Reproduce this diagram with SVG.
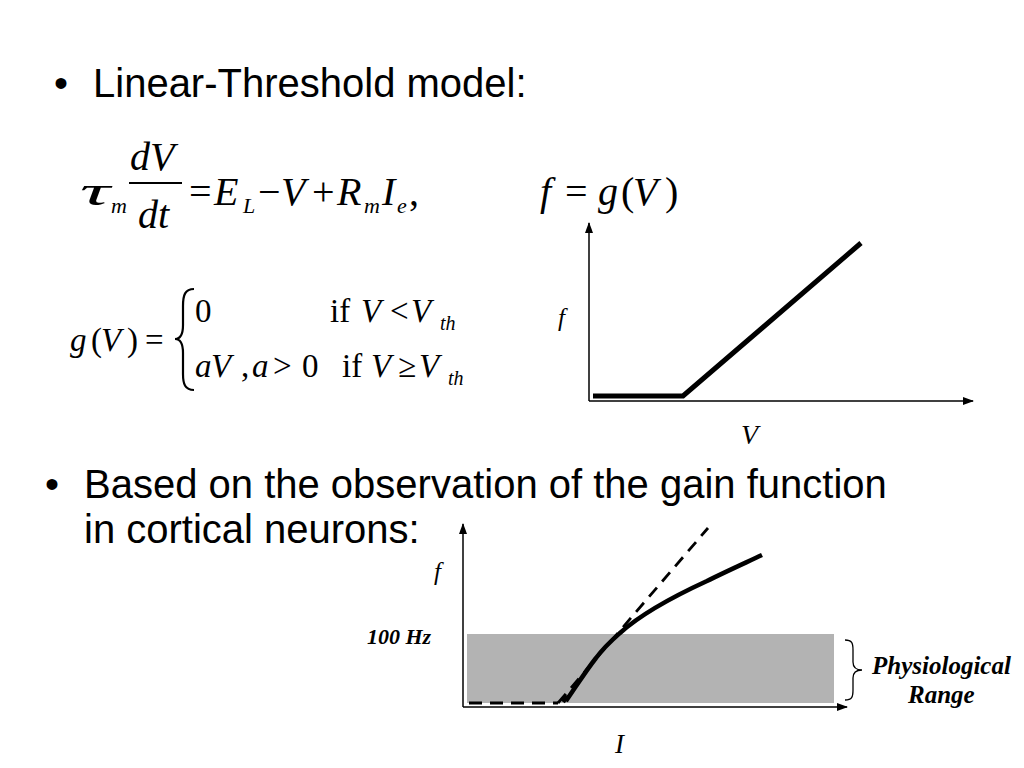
<svg xmlns="http://www.w3.org/2000/svg" width="1024" height="768" viewBox="0 0 1024 768">
<defs>
<style>
.bul{font-family:"Liberation Sans",Arial,sans-serif;font-size:40px;fill:#000}
.m{font-family:"Liberation Serif","Times New Roman",serif;font-style:italic;fill:#000}
.r{font-family:"Liberation Serif","Times New Roman",serif;fill:#000}
.bi{font-family:"Liberation Serif","Times New Roman",serif;font-style:italic;font-weight:bold;fill:#000}
.ax{stroke:#000;stroke-width:1.5;fill:none}
</style>
<marker id="ah" markerWidth="11" markerHeight="8" refX="10" refY="4" orient="auto" markerUnits="userSpaceOnUse">
<path d="M0,0 L11,4 L0,8 Z" fill="#000"/>
</marker>
</defs>
<rect width="1024" height="768" fill="#fff"/>

<g id="bullet1">
<text class="bul" x="54" y="97">•</text>
<text class="bul" x="93" y="97">Linear-Threshold model:</text>
</g>

<g id="eq1" font-size="40">
<text class="m" x="80" y="205" font-size="42" textLength="30" lengthAdjust="spacingAndGlyphs">τ</text>
<text class="m" x="111" y="213" font-size="22">m</text>
<text class="m" x="130" y="170">dV</text>
<line x1="129" y1="183" x2="182" y2="183" stroke="#000" stroke-width="2"/>
<text class="m" x="138" y="228">dt</text>
<text class="r" x="189" y="205">=</text>
<text class="m" x="214" y="205">E</text>
<text class="m" x="243" y="213" font-size="22">L</text>
<text class="r" x="258" y="205">−</text>
<text class="m" x="281" y="205">V</text>
<text class="r" x="312" y="205">+</text>
<text class="m" x="337" y="205">R</text>
<text class="m" x="364" y="213" font-size="22">m</text>
<text class="m" x="382" y="205">I</text>
<text class="m" x="397" y="213" font-size="22">e</text>
<text class="r" x="409" y="205">,</text>
<text class="m" x="540" y="205">f</text>
<text class="r" x="565" y="205">=</text>
<text class="m" x="598" y="205">g</text>
<text class="r" x="621" y="205">(</text>
<text class="m" x="633" y="205">V</text>
<text class="r" x="665" y="205">)</text>
</g>

<g id="eq2" font-size="33">
<text class="m" x="70" y="351">g</text>
<text class="r" x="91" y="351">(</text>
<text class="m" x="101" y="351">V</text>
<text class="r" x="127" y="351">)</text>
<text class="r" x="145" y="351">=</text>
<path d="M194,289 C185,289 183,295 183,306 L183,325 C183,334 180,339 175,339 C180,339 183,344 183,353 L183,374 C183,384 185,390 194,390" fill="none" stroke="#000" stroke-width="2.2"/>
<text class="r" x="195" y="322">0</text>
<text class="r" x="330" y="322">if</text>
<text class="m" x="361" y="322">V</text>
<text class="r" x="390" y="322">&lt;</text>
<text class="m" x="411" y="322">V</text>
<text class="m" x="440" y="330" font-size="20">th</text>
<text class="m" x="195" y="377">a</text>
<text class="m" x="211" y="377">V</text>
<text class="r" x="241" y="377">,</text>
<text class="m" x="252" y="377">a</text>
<text class="r" x="273" y="377">&gt;</text>
<text class="r" x="302" y="377">0</text>
<text class="r" x="342" y="377">if</text>
<text class="m" x="371" y="377">V</text>
<text class="r" x="398" y="377">≥</text>
<text class="m" x="419" y="377">V</text>
<text class="m" x="448" y="385" font-size="20">th</text>
</g>

<g id="graph1">
<line class="ax" x1="589" y1="401" x2="589" y2="223" marker-end="url(#ah)"/>
<line class="ax" x1="589" y1="401" x2="973" y2="401" marker-end="url(#ah)"/>
<polyline points="593,396 683,396 861,243" fill="none" stroke="#000" stroke-width="5"/>
<text class="m" x="558" y="326" font-size="25">f</text>
<text class="m" x="741" y="444" font-size="28">V</text>
</g>

<g id="bullet2">
<text class="bul" x="45" y="498">•</text>
<text class="bul" x="84" y="498">Based on the observation of the gain function</text>
<text class="bul" x="84" y="543">in cortical neurons:</text>
</g>

<g id="graph2">
<rect x="467" y="634" width="367" height="69" fill="#b3b3b3"/>
<line class="ax" x1="463" y1="707" x2="463" y2="524" marker-end="url(#ah)"/>
<line class="ax" x1="463" y1="707" x2="847" y2="707" marker-end="url(#ah)"/>
<line x1="469" y1="703" x2="558" y2="703" stroke="#000" stroke-width="3" stroke-dasharray="13,8"/>
<line x1="558" y1="703" x2="708" y2="528" stroke="#000" stroke-width="2.8" stroke-dasharray="12,8"/>
<path d="M563,702 L567,696 L566,701 C575,688 585,672 596,658 C605,646 612,640 620,633 C640,615 670,598 707,581 C725,572 745,563 762,555" fill="none" stroke="#000" stroke-width="4.5"/>
<path d="M845,640 C852,640 853,643 853,650 L853,662 C853,667 856,670 862,670 C856,670 853,673 853,678 L853,690 C853,697 852,700 845,700" fill="none" stroke="#000" stroke-width="1.3"/>
<text class="bi" x="367" y="644" font-size="22">100 Hz</text>
<text class="m" x="434" y="580" font-size="25">f</text>
<text class="m" x="615" y="753" font-size="27">I</text>
<text class="bi" x="872" y="674" font-size="25">Physiological</text>
<text class="bi" x="908" y="703" font-size="25">Range</text>
</g>
</svg>
